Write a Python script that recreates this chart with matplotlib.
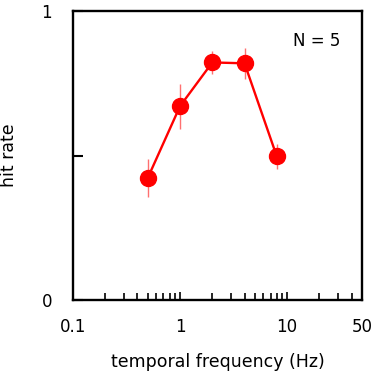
import numpy as np
import matplotlib
matplotlib.use('Agg')
import matplotlib.pyplot as plt
from matplotlib.ticker import FixedLocator, NullFormatter

freq = [0.5, 1, 2, 4, 8]
hit_rate = [0.423, 0.671, 0.822, 0.819, 0.497]
err = [0.065, 0.078, 0.039, 0.054, 0.044]

xtick_vals = [0.1, 1, 10, 50]
xtick_labels = ['0.1', '1', '10', '50']
minor_vals = [0.2, 0.3, 0.4, 0.5, 0.6, 0.7, 0.8, 0.9,
              2, 3, 4, 5, 6, 7, 8, 9, 20, 30, 40]

fig = plt.figure(figsize=(3.74, 3.76), dpi=100)
ax = fig.add_axes([73/374, 1 - 300/376, 289/374, 289/376])

ax.errorbar(freq, hit_rate, yerr=err, fmt='none', ecolor='#ff7070',
            elinewidth=1.0, capsize=0, zorder=2)
ax.plot(freq, hit_rate, color='red', lw=1.7, marker='o', ms=11.5,
        mfc='red', mec='red', zorder=3)

ax.set_xscale('log')
ax.set_xlim(0.1, 50)
ax.set_ylim(0, 1)

ax.xaxis.set_major_locator(FixedLocator(xtick_vals))
ax.set_xticklabels(xtick_labels)
ax.xaxis.set_minor_locator(FixedLocator(minor_vals))
ax.xaxis.set_minor_formatter(NullFormatter())
ax.set_yticks([0, 0.5, 1])
ax.set_yticklabels(['0', '', '1'])

ax.tick_params(axis='x', which='major', direction='in', length=6, width=1.2,
               pad=13, labelsize=12)
ax.tick_params(axis='x', which='minor', direction='in', length=5, width=1.2)
ax.tick_params(axis='y', direction='in', length=7, width=1.5, pad=15,
               labelsize=12)

for s in ax.spines.values():
    s.set_linewidth(1.7)

ax.set_xlabel('temporal frequency (Hz)', fontsize=12.5)
ax.xaxis.set_label_coords(0.5, -0.185)
ax.set_ylabel('hit rate', fontsize=12.5)
ax.yaxis.set_label_coords(-0.19, 0.5)
ax.text(0.924, 0.897, 'N = 5', transform=ax.transAxes, ha='right', va='center',
        fontsize=12)

fig.savefig('out.png', dpi=100)
